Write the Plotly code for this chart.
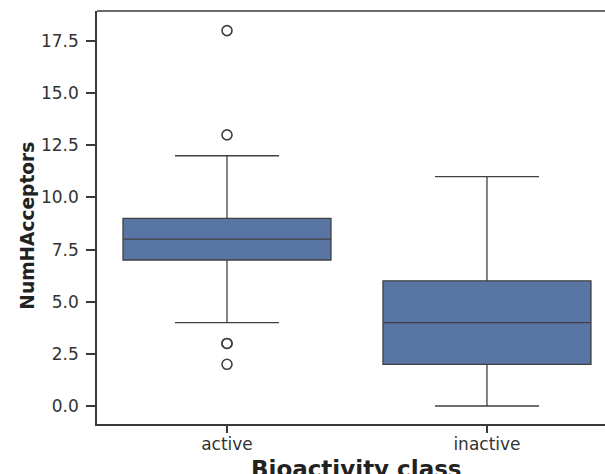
import plotly.graph_objects as go

categories = ["active", "inactive"]
q1 = [7.0, 2.0]
median = [8.0, 4.0]
q3 = [9.0, 6.0]
lower_whisker = [4.0, 0.0]
upper_whisker = [12.0, 11.0]
outlier_class = ["active", "active", "active", "active", "active"]
outlier_values = [18.0, 13.0, 3.0, 3.0, 2.0]
y_ticks = [0, 2.5, 5, 7.5, 10, 12.5, 15, 17.5]
y_tick_labels = ["0.0", "2.5", "5.0", "7.5", "10.0", "12.5", "15.0", "17.5"]

box_fill = "#5875a4"
line_col = "#404040"
axis_col = "#3a3a3a"
text_col = "#333333"
title_col = "#222222"

fig = go.Figure()
fig.add_trace(go.Box(
    x=categories, q1=q1, median=median, q3=q3,
    lowerfence=lower_whisker, upperfence=upper_whisker,
    width=0.8, whiskerwidth=0.5,
    fillcolor=box_fill, line=dict(color=line_col, width=1.3),
    boxpoints=False, showlegend=False, hoverinfo="skip",
))
fig.add_trace(go.Scatter(
    x=outlier_class, y=outlier_values, mode="markers",
    marker=dict(symbol="circle-open", size=10, color=line_col, line=dict(width=1.6, color=line_col)),
    showlegend=False,
))

font_family = "DejaVu Sans"
fig.update_layout(
    width=605, height=474,
    margin=dict(l=97, r=0, t=11, b=50),
    paper_bgcolor="white", plot_bgcolor="white",
    font=dict(family=font_family, color=text_col),
    xaxis=dict(
        type="category", categoryorder="array", categoryarray=categories,
        range=[-0.5, 1.454], automargin=False,
        showline=True, linecolor=axis_col, linewidth=1.5, mirror=False,
        ticks="outside", ticklen=7, tickwidth=1.5, tickcolor=axis_col,
        ticklabelstandoff=-3,
        showgrid=False, zeroline=False,
        tickfont=dict(size=17, family=font_family, color=text_col),
    ),
    yaxis=dict(
        range=[-0.863, 18.94], automargin=False,
        tickvals=y_ticks, ticktext=y_tick_labels,
        showline=True, linecolor=axis_col, linewidth=1.5, mirror=False,
        ticks="outside", ticklen=9, tickwidth=1.5, tickcolor=axis_col,
        ticklabelstandoff=4,
        showgrid=False, zeroline=False,
        tickfont=dict(size=17, family=font_family, color=text_col),
    ),
)
# top spine
fig.add_shape(type="line", xref="paper", yref="paper", x0=0, x1=1, y0=1, y1=1,
              line=dict(color=axis_col, width=1.5), layer="above")
fig.add_annotation(
    text="<b>Bioactivity class</b>", xref="x", yref="paper", x=0.5, y=-0.073,
    xanchor="center", yanchor="top", showarrow=False,
    font=dict(size=23, family=font_family, color=title_col),
)
fig.add_annotation(
    text="<b>NumHAcceptors</b>", xref="paper", yref="paper", x=-0.136, y=0.48,
    xanchor="center", yanchor="middle", showarrow=False, textangle=-90,
    font=dict(size=18.6, family=font_family, color=title_col),
)

fig.write_html(
    "out.html", config={"displayModeBar": False},
    post_script=(
        "document.documentElement.style.margin='0px';"
        "document.documentElement.style.overflow='hidden';"
        "document.body.style.margin='0px';"
        "document.body.style.overflow='hidden';"
    ),
)
